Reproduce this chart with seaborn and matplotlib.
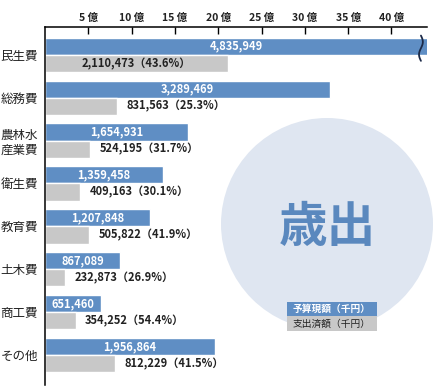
import numpy as np
import pandas as pd
import seaborn as sns
import matplotlib
matplotlib.use("Agg")
import matplotlib.pyplot as plt
from matplotlib.patches import Circle, Rectangle

categories = ["民生費", "総務費", "農林水\n産業費", "衛生費", "教育費", "土木費", "商工費", "その他"]
budget = [4835949, 3289469, 1654931, 1359458, 1207848, 867089, 651460, 1956864]
spent = [2110473, 831563, 524195, 409163, 505822, 232873, 354252, 812229]
rates = [43.6, 25.3, 31.7, 30.1, 41.9, 26.9, 54.4, 41.5]
series_names = ["予算現額（千円）", "支出済額（千円）"]
tick_vals = [5, 10, 15, 20, 25, 30, 35, 40]
tick_labels = [f"{v} 億" for v in tick_vals]

BLUE = "#5f8ec4"
GRAY = "#c8c8c8"
CIRCLE = "#dfe6f1"
TITLE_C = "#5a88be"

sns.set_theme(style="white")
plt.rcParams["font.family"] = ["Noto Sans CJK JP", "DejaVu Sans"]

df = pd.DataFrame({
    "cat": categories * 2,
    "series": [series_names[0]] * len(categories) + [series_names[1]] * len(categories),
    "val": [v / 1e5 for v in budget] + [v / 1e5 for v in spent],
})

fig = plt.figure(figsize=(4.36, 3.90), dpi=100)
# background circle
fig.patches.append(Circle((3.27, 3.90 - 2.24), 1.06, transform=fig.dpi_scale_trans,
                          facecolor=CIRCLE, edgecolor="none", zorder=0))
fig.text(327 / 436, 1 - 228 / 390, "歳出", ha="center", va="center", fontsize=35,
         fontweight="bold", color=TITLE_C)

ax = fig.add_axes([45 / 436, 1 - 385 / 390, (427 - 45) / 436, (385 - 27) / 390])
ax.patch.set_alpha(0)

sns.barplot(data=df, y="cat", x="val", hue="series", palette=[BLUE, GRAY],
            orient="h", width=0.8, ax=ax, legend=False, saturation=1)

ax.set_xlim(0, 44.1)
ax.set_ylim(7.7, -0.65)
ax.set_xlabel("")
ax.set_ylabel("")
ax.xaxis.tick_top()
ax.set_xticks(tick_vals)
ax.set_xticklabels(tick_labels, fontsize=7.5, fontweight="bold", color="#222222")
ax.tick_params(axis="x", direction="in", length=5, width=1, color="black", pad=3, top=True, bottom=False)
ax.tick_params(axis="y", length=0, labelsize=9, pad=5)
for lab in ax.get_yticklabels():
    lab.set_color("#222222")
for s in ["right", "bottom"]:
    ax.spines[s].set_visible(False)
for s in ["left", "top"]:
    ax.spines[s].set_color("black")
    ax.spines[s].set_linewidth(1.1)

xmax = 44.1
blue_c, gray_c = ax.containers[0], ax.containers[1]
for i, bar in enumerate(blue_c):
    w = min(bar.get_width(), xmax)
    y = bar.get_y() + bar.get_height() / 2
    ax.text(w / 2, y, f"{budget[i]:,}", ha="center", va="center", color="white",
            fontsize=8, fontweight="bold")
for i, bar in enumerate(gray_c):
    w = bar.get_width()
    y = bar.get_y() + bar.get_height() / 2
    txt = f"{spent[i]:,}（{rates[i]}%）"
    if i == 0:
        ax.text(w / 2, y, txt, ha="center", va="center", color="#222222",
                fontsize=8, fontweight="bold")
    else:
        ax.text(w + 1.1, y, txt, ha="left", va="center", color="#222222",
                fontsize=8, fontweight="bold")

# break mark on the truncated bar
t = np.linspace(0, 2 * np.pi, 60)
yb = blue_c[0].get_y()
hb = blue_c[0].get_height()
ax.plot(43.4 + 0.22 * np.sin(t), np.linspace(yb - 0.05, yb + hb * 1.35, 60),
        color="#1c2a48", lw=1.3, clip_on=False, zorder=5)

# legend
lx0, lw_ = 287 / 436, 90 / 436
fig.patches.append(Rectangle((lx0, 1 - 316 / 390), lw_, 14 / 390, transform=fig.transFigure,
                             facecolor=BLUE, edgecolor="none", zorder=3))
fig.patches.append(Rectangle((lx0, 1 - 331 / 390), lw_, 15 / 390, transform=fig.transFigure,
                             facecolor=GRAY, edgecolor="none", zorder=3))
fig.text(lx0 + lw_ / 2, 1 - 309 / 390, series_names[0], ha="center", va="center",
         fontsize=7, fontweight="bold", color="white", zorder=4)
fig.text(lx0 + lw_ / 2, 1 - 323.5 / 390, series_names[1], ha="center", va="center",
         fontsize=7, color="#222222", zorder=4)

fig.savefig("out.png", dpi=100)
